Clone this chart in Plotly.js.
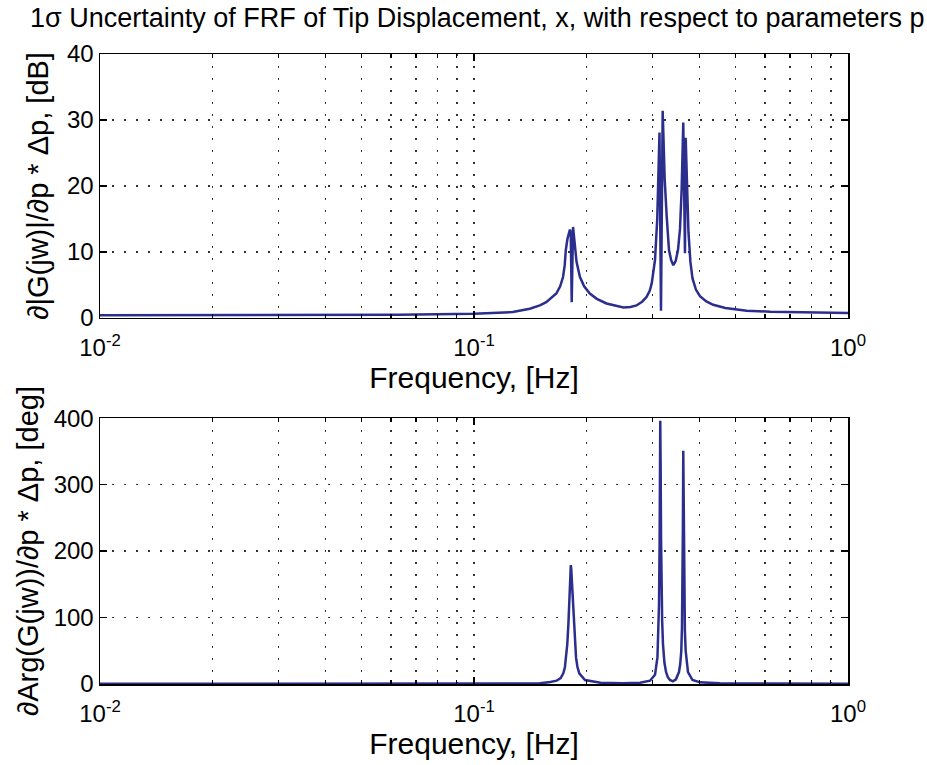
<!DOCTYPE html>
<html>
<head>
<meta charset="utf-8">
<script src="https://cdn.plot.ly/plotly-3.0.1.min.js"></script>
<style>html,body{margin:0;padding:0;background:#fff;}#chart{width:927px;height:765px;}</style>
</head>
<body>
<div id="chart"></div>
<script>
// ---- data ----
const chartTitle = "1\u03c3 Uncertainty of FRF of Tip Displacement, x, with respect to parameters p";
const xLabel = "Frequency, [Hz]";
const yLabelMag = "\u2202|G(jw)|/\u2202p * \u0394p, [dB]";
const yLabelArg = "\u2202Arg(G(jw))/\u2202p * \u0394p, [deg]";

const xTickVals = [0.01, 0.1, 1];
const xTickText = ["10<sup>-2</sup>", "10<sup>-1</sup>", "10<sup>0</sup>"];
const xMinorVals = [0.02,0.03,0.04,0.05,0.06,0.07,0.08,0.09,0.2,0.3,0.4,0.5,0.6,0.7,0.8,0.9];
const magTickVals = [0, 10, 20, 30, 40];
const argTickVals = [0, 100, 200, 300, 400];

// top: magnitude sensitivity [dB]
const freqMag = [0.01,0.02,0.04,0.063,0.1,0.127,0.141,0.150,0.156,0.161,0.166,0.170,0.173,0.1748,0.176,0.1778,0.1795,0.1805,0.1814,0.1825,0.184,0.1852,0.1862,0.188,0.192,0.197,0.204,0.213,0.226,0.240,0.251,0.262,0.272,0.282,0.2895,0.295,0.2986,0.3048,0.309,0.3133,0.3162,0.3195,0.3235,0.3275,0.3322,0.3365,0.3411,0.346,0.3511,0.3555,0.3591,0.3627,0.3665,0.3681,0.371,0.3745,0.379,0.3839,0.392,0.402,0.418,0.436,0.47,0.536,0.62,0.744,0.87,1.0];
const magDB  = [0.4,0.4,0.45,0.5,0.65,0.9,1.4,1.9,2.4,3.0,3.7,4.8,6.2,8.0,10.3,12.0,13.1,13.4,13.0,2.4,13.8,12.2,10.8,8.5,6.2,4.8,3.7,2.9,2.2,1.8,1.6,1.65,1.9,2.5,3.2,4.1,5.2,8.8,15.0,28.1,1.1,31.4,21.0,15.4,10.3,8.8,8.0,8.6,10.3,13.5,19.5,29.6,9.8,27.3,19.0,13.0,8.5,6.0,4.3,3.3,2.5,2.0,1.5,1.1,0.95,0.85,0.8,0.75];

// bottom: phase sensitivity [deg]
const freqArg = [0.01,0.05,0.1,0.1501,0.16,0.1663,0.1705,0.1733,0.175,0.1762,0.1776,0.1788,0.1798,0.1806,0.1812,0.1815,0.182,0.1828,0.1838,0.1848,0.186,0.1874,0.189,0.1912,0.1981,0.2179,0.25,0.278,0.2955,0.3048,0.3094,0.311,0.3124,0.3135,0.3143,0.3148,0.3155,0.3163,0.3172,0.3185,0.3201,0.323,0.3262,0.33,0.3342,0.3404,0.3467,0.3532,0.356,0.3583,0.3598,0.3609,0.3618,0.3627,0.3636,0.3649,0.3663,0.3681,0.3734,0.3839,0.402,0.4547,1.0];
const argDeg  = [0.2,0.3,0.5,1,3,5,9,16,25,40,60,90,125,155,175,179,172,150,118,90,60,40,26,16,6,2,1.2,2,5,14,40,70,120,210,320,396,330,220,150,95,60,32,18,10,6,4,7,18,30,50,85,130,230,351,240,130,80,50,18,6,2.5,1,0.5];

const lineColor = "#2b2e8c";
const gridDash = "2px,10px";
const font = "Liberation Sans, Arial, Helvetica, sans-serif";

function xAxis(domainAnchor) {
  return {
    type: "log",
    range: [-2, 0],
    anchor: domainAnchor,
    tickmode: "array",
    tickvals: xTickVals,
    ticktext: xTickText,
    ticks: "inside",
    ticklen: 7,
    tickwidth: 1.5,
    tickcolor: "#000",
    ticklabelstandoff: 8,
    showline: true,
    linecolor: "#000",
    linewidth: 1.5,
    mirror: "ticks",
    showgrid: true,
    gridcolor: "#333",
    griddash: gridDash,
    gridwidth: 1.3,
    zeroline: false,
    tickfont: {family: font, size: 24, color: "#000"},
    title: {text: xLabel, font: {family: font, size: 30, color: "#000"}, standoff: 4},
    minor: {
      tickmode: "array",
      tickvals: xMinorVals,
      ticks: "inside",
      ticklen: 4,
      tickwidth: 1.2,
      tickcolor: "#000",
      showgrid: true,
      gridcolor: "#333",
      griddash: gridDash,
      gridwidth: 1.3
    }
  };
}
function yAxis(domain, range, tv, label, anchor, standoff) {
  return {
    domain: domain,
    range: range,
    anchor: anchor,
    tickmode: "array",
    tickvals: tv,
    ticks: "inside",
    ticklen: 7,
    tickwidth: 1.5,
    tickcolor: "#000",
    showline: true,
    linecolor: "#000",
    linewidth: 1.5,
    mirror: "ticks",
    showgrid: true,
    gridcolor: "#333",
    griddash: gridDash,
    gridwidth: 1.3,
    zeroline: false,
    tickfont: {family: font, size: 24, color: "#000"},
    title: {text: label, font: {family: font, size: 29, color: "#000"}, standoff: standoff}
  };
}

const traces = [
  {x: freqMag, y: magDB, type: "scatter", mode: "lines", xaxis: "x", yaxis: "y",
   line: {color: lineColor, width: 2.5}, hoverinfo: "skip"},
  {x: freqArg, y: argDeg, type: "scatter", mode: "lines", xaxis: "x2", yaxis: "y2",
   line: {color: lineColor, width: 2.5}, hoverinfo: "skip"}
];

const layout = {
  width: 927, height: 765,
  paper_bgcolor: "#fff", plot_bgcolor: "#fff",
  showlegend: false,
  margin: {l: 100, r: 79, t: 54, b: 81},
  title: {text: chartTitle, font: {family: font, size: 27, color: "#000"},
          x: 30 / 927, xref: "container", xanchor: "left", y: 0.99, yanchor: "top"},
  xaxis: xAxis("y"),
  xaxis2: xAxis("y2"),
  yaxis: yAxis([0.581, 1], [0, 40], magTickVals, yLabelMag, "x", 10),
  yaxis2: yAxis([0, 0.422], [0, 400], argTickVals, yLabelArg, "x2", 6)
};

Plotly.newPlot("chart", traces, layout, {displayModeBar: false, staticPlot: true});
</script>
</body>
</html>
